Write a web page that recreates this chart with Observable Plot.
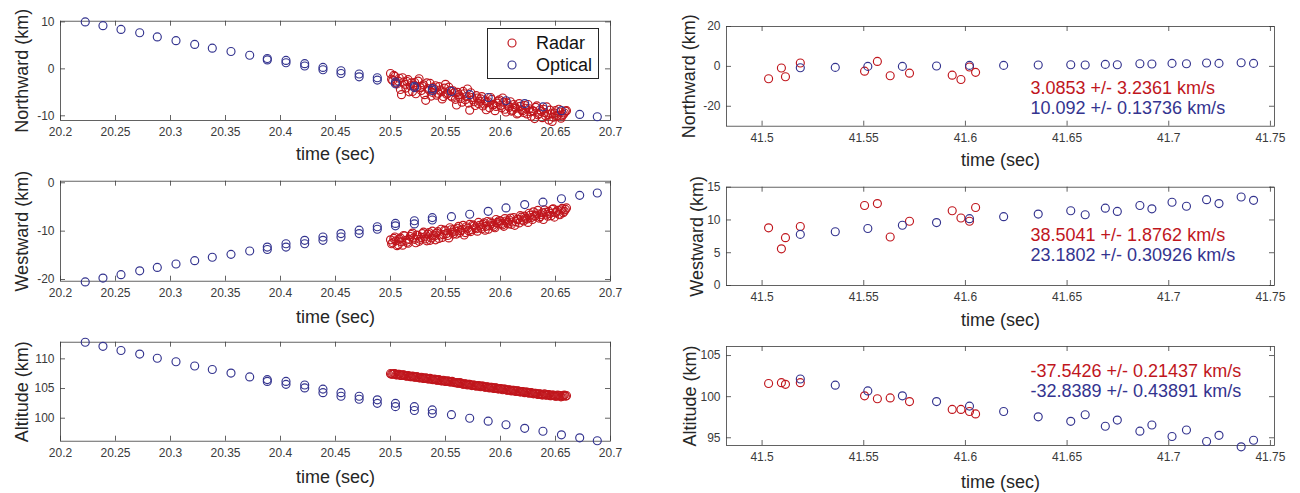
<!DOCTYPE html>
<html><head><meta charset="utf-8">
<script src="https://cdn.jsdelivr.net/npm/d3@7"></script>
<script src="https://cdn.jsdelivr.net/npm/@observablehq/plot@0.6"></script>
<style>
body{margin:0;background:#fff;}
#chart{position:relative;width:1300px;height:493px;font-family:"Liberation Sans",Arial,sans-serif;overflow:hidden;}
#chart > svg, #chart > div{position:absolute;}
</style></head><body><div id="chart"></div>
<script>
// ---------- tick labels ----------
const leftXTicks = [20.2, 20.25, 20.3, 20.35, 20.4, 20.45, 20.5, 20.55, 20.6, 20.65, 20.7];
const rightXTicks = [41.5, 41.55, 41.6, 41.65, 41.7, 41.75];
const northLeftTicks = [-10, 0, 10];
const westLeftTicks = [-20, -10, 0];
const altLeftTicks = [100, 105, 110];
const northRightTicks = [-20, 0, 20];
const westRightTicks = [0, 5, 10, 15];
const altRightTicks = [95, 100, 105];

// ---------- left column: optical (camera 1) ----------
const optTime = [20.2225, 20.2386, 20.2550, 20.2720, 20.2880, 20.3050, 20.3220, 20.3380, 20.3550, 20.3720, 20.3880, 20.4050, 20.4220, 20.4386, 20.4550, 20.4715, 20.4880, 20.5045, 20.5217, 20.5380, 20.5554, 20.5720, 20.5888, 20.6050, 20.6220, 20.6386, 20.6554, 20.6720, 20.6880];
const optNorth = [10.0, 9.2, 8.4, 7.7, 6.8, 6.0, 5.2, 4.4, 3.7, 2.9, 2.2, 1.8, 1.1, 0.3, -0.4, -1.1, -1.9, -2.8, -3.7, -4.2, -4.8, -5.5, -6.1, -6.8, -7.4, -8.1, -8.9, -9.7, -10.2];
const optWest = [-20.5, -19.7, -19.0, -18.2, -17.5, -16.8, -16.1, -15.4, -14.8, -14.1, -13.3, -12.6, -11.9, -11.2, -10.5, -9.8, -9.1, -8.4, -7.85, -7.2, -7.0, -6.5, -5.9, -5.2, -4.5, -4.0, -3.3, -2.6, -2.1];
const optAlt = [112.8, 112.1, 111.4, 110.8, 110.1, 109.5, 108.8, 108.2, 107.6, 106.95, 106.5, 106.2, 105.6, 104.9, 104.3, 103.7, 103.1, 102.5, 101.95, 101.4, 100.6, 100.0, 99.5, 98.9, 98.3, 97.8, 97.2, 96.7, 96.2];
// optical (camera 2, overlapping interval)
const opt2Time = [20.3880, 20.4050, 20.4220, 20.4386, 20.4550, 20.4715, 20.4880, 20.5045, 20.5217, 20.5380];
const opt2North = [1.9, 1.3, 0.6, -0.2, -1.0, -1.7, -2.4, -3.2, -4.0, -4.6];
const opt2West = [-13.8, -13.3, -12.6, -11.9, -11.2, -10.5, -9.6, -8.9, -8.5, -7.7];
const opt2Alt = [106.2, 105.7, 105.1, 104.3, 103.7, 103.2, 102.5, 101.95, 101.3, 100.8];

// ---------- left column: radar (even-ms samples) ----------
const radarTime = [20.500, 20.502, 20.504, 20.506, 20.508, 20.510, 20.512, 20.514, 20.516, 20.518,
  20.520, 20.522, 20.524, 20.526, 20.528, 20.530, 20.532, 20.534, 20.536, 20.538,
  20.540, 20.542, 20.544, 20.546, 20.548, 20.550, 20.552, 20.554, 20.556, 20.558,
  20.560, 20.562, 20.564, 20.566, 20.568, 20.570, 20.572, 20.574, 20.576, 20.578,
  20.580, 20.582, 20.584, 20.586, 20.588, 20.590, 20.592, 20.594, 20.596, 20.598,
  20.600, 20.602, 20.604, 20.606, 20.608, 20.610, 20.612, 20.614, 20.616, 20.618,
  20.620, 20.622, 20.624, 20.626, 20.628, 20.630, 20.632, 20.634, 20.636, 20.638,
  20.640, 20.642, 20.644, 20.646, 20.648, 20.650, 20.652, 20.654, 20.656, 20.658,
  20.660];
const radarNorth = [-1.0, -2.5, -1.6, -3.2, -2.0, -5.5, -2.8, -4.1, -2.3, -3.6,
  -4.8, -2.9, -3.9, -2.1, -4.6, -3.4, -6.7, -4.2, -3.1, -5.0,
  -4.4, -5.6, -3.8, -4.9, -5.9, -3.3, -5.2, -4.6, -6.0, -5.1,
  -7.7, -5.5, -6.3, -4.8, -6.6, -4.3, -8.8, -6.1, -7.0, -5.7,
  -7.4, -6.4, -7.9, -6.8, -7.2, -8.3, -6.5, -7.6, -8.0, -6.9,
  -7.8, -6.2, -8.6, -7.3, -8.2, -9.0, -7.6, -8.4, -9.4, -8.0,
  -8.9, -7.8, -9.6, -8.5, -10.1, -9.0, -8.2, -9.8, -8.7, -10.4,
  -9.3, -8.1, -10.9, -9.6, -10.3, -8.9, -9.9, -9.2, -10.0, -9.4,
  -8.9];
const radarWest = [-11.8, -12.4, -11.2, -13.0, -11.6, -12.2, -10.9, -11.9, -12.5, -11.1,
  -10.4, -11.7, -10.8, -12.1, -11.3, -10.2, -11.6, -10.6, -11.9, -10.0,
  -11.0, -10.4, -11.5, -9.6, -10.7, -9.9, -10.9, -9.3, -10.2, -9.6,
  -10.6, -9.0, -9.9, -8.8, -10.3, -9.4, -8.6, -9.7, -8.9, -9.5,
  -8.2, -9.2, -8.6, -9.8, -8.0, -8.9, -8.4, -9.1, -7.6, -8.5,
  -7.9, -8.7, -7.4, -8.2, -7.7, -8.6, -7.2, -8.0, -7.5, -6.8,
  -7.7, -6.9, -7.5, -6.3, -7.2, -6.0, -6.8, -5.7, -7.0, -6.2,
  -5.6, -6.5, -5.9, -6.8, -5.4, -6.2, -5.7, -6.6, -5.3, -5.9,
  -5.2];
const radarAlt = [107.5, 107.4, 107.5, 107.3, 107.4, 107.2, 107.3, 107.1, 107.2, 107.0,
  107.1, 106.9, 107.0, 106.8, 106.9, 106.7, 106.8, 106.6, 106.7, 106.5,
  106.6, 106.4, 106.5, 106.3, 106.4, 106.2, 106.3, 106.1, 106.2, 106.0,
  106.0, 105.9, 105.9, 105.7, 105.8, 105.6, 105.7, 105.5, 105.6, 105.4,
  105.5, 105.3, 105.4, 105.2, 105.3, 105.1, 105.2, 105.0, 105.1, 104.9,
  105.0, 104.8, 104.9, 104.7, 104.8, 104.6, 104.7, 104.5, 104.6, 104.4,
  104.5, 104.3, 104.4, 104.2, 104.3, 104.1, 104.2, 104.0, 104.1, 103.9,
  104.1, 103.9, 104.0, 103.8, 103.9, 103.7, 103.9, 103.8, 103.7, 103.9,
  103.8];

// ---------- left column: radar (odd-ms samples) ----------
const radarTime2 = [20.501, 20.503, 20.505, 20.507, 20.509, 20.511, 20.513, 20.515, 20.517, 20.519,
  20.521, 20.523, 20.525, 20.527, 20.529, 20.531, 20.533, 20.535, 20.537, 20.539,
  20.541, 20.543, 20.545, 20.547, 20.549, 20.551, 20.553, 20.555, 20.557, 20.559,
  20.561, 20.563, 20.565, 20.567, 20.569, 20.571, 20.573, 20.575, 20.577, 20.579,
  20.581, 20.583, 20.585, 20.587, 20.589, 20.591, 20.593, 20.595, 20.597, 20.599,
  20.601, 20.603, 20.605, 20.607, 20.609, 20.611, 20.613, 20.615, 20.617, 20.619,
  20.621, 20.623, 20.625, 20.627, 20.629, 20.631, 20.633, 20.635, 20.637, 20.639,
  20.641, 20.643, 20.645, 20.647, 20.649, 20.651, 20.653, 20.655, 20.657, 20.659];
const radarNorth2 = [-2.2, -1.4, -3.0, -2.6, -4.4, -1.9, -3.3, -2.7, -4.9, -3.0,
  -3.5, -5.3, -2.6, -4.0, -3.7, -5.5, -3.0, -4.5, -5.8, -4.0,
  -3.6, -5.2, -4.5, -6.4, -4.1, -5.4, -3.9, -5.8, -4.7, -6.5,
  -5.0, -6.0, -7.1, -5.3, -5.9, -7.3, -5.1, -6.6, -7.8, -6.2,
  -6.9, -5.9, -7.5, -8.7, -7.0, -6.1, -7.7, -8.9, -7.3, -6.6,
  -8.3, -7.1, -9.2, -7.9, -7.0, -8.8, -8.1, -9.6, -7.4, -8.7,
  -9.3, -8.4, -7.6, -9.1, -8.9, -10.6, -7.9, -9.5, -9.1, -8.6,
  -10.0, -9.7, -8.8, -11.2, -9.4, -10.1, -8.6, -10.5, -9.7, -9.0];
const radarWest2 = [-12.6, -11.5, -12.0, -12.8, -11.4, -12.9, -11.0, -12.3, -11.7, -10.7,
  -11.4, -12.4, -10.9, -11.7, -10.5, -11.2, -12.0, -10.3, -11.4, -10.8,
  -11.8, -10.1, -10.8, -11.3, -9.8, -10.5, -11.4, -9.7, -10.6, -10.0,
  -9.4, -10.3, -9.6, -10.8, -9.1, -9.9, -10.1, -8.7, -9.3, -10.0,
  -8.8, -9.5, -8.3, -9.0, -9.6, -8.1, -8.8, -9.3, -8.2, -7.8,
  -8.4, -9.0, -7.9, -8.5, -7.3, -8.1, -8.8, -7.6, -8.3, -7.1,
  -7.9, -7.3, -8.2, -6.7, -7.6, -6.9, -6.4, -7.3, -6.6, -7.6,
  -6.1, -6.9, -6.3, -5.5, -7.1, -6.0, -6.5, -5.6, -6.2, -5.5];
const radarAlt2 = [107.4, 107.5, 107.3, 107.4, 107.2, 107.3, 107.2, 107.1, 107.1, 107.0,
  107.0, 106.9, 106.9, 106.8, 106.8, 106.7, 106.7, 106.6, 106.6, 106.5,
  106.5, 106.4, 106.4, 106.3, 106.3, 106.2, 106.2, 106.1, 106.1, 106.0,
  105.9, 106.0, 105.8, 105.8, 105.7, 105.7, 105.6, 105.6, 105.5, 105.5,
  105.4, 105.4, 105.3, 105.3, 105.2, 105.2, 105.1, 105.1, 105.0, 105.0,
  104.9, 104.9, 104.8, 104.8, 104.7, 104.7, 104.6, 104.6, 104.5, 104.5,
  104.4, 104.4, 104.3, 104.3, 104.2, 104.2, 104.1, 104.1, 104.0, 104.0,
  103.9, 104.0, 103.8, 103.9, 103.8, 103.7, 103.8, 103.6, 103.8, 103.7];

// ---------- right column ----------
const radarTimeR = [41.5032, 41.5095, 41.5115, 41.5188, 41.5504, 41.5567, 41.5630, 41.5725, 41.5935, 41.5978, 41.6020, 41.6050];
const radarNorthR = [-6.2, -0.8, -5.2, 1.7, -2.4, 2.5, -4.7, -3.4, -4.4, -6.6, -0.3, -3.0];
const radarWestR = [8.8, 5.6, 7.3, 9.0, 12.2, 12.5, 7.4, 9.8, 11.4, 10.3, 9.8, 11.9];
const radarAltR = [101.6, 101.7, 101.5, 101.7, 100.1, 99.75, 99.85, 99.4, 98.45, 98.45, 98.2, 97.9];

const optTimeR = [41.5188, 41.5360, 41.5520, 41.5690, 41.5858, 41.6020, 41.6188, 41.6358, 41.6518, 41.6589, 41.6688, 41.6747, 41.6858, 41.6917, 41.7016, 41.7087, 41.7186, 41.7247, 41.7356, 41.7417];
const optNorthR = [-0.7, -0.5, 0.0, 0.0, 0.2, 0.5, 0.5, 0.7, 0.8, 0.7, 1.0, 0.8, 1.3, 1.2, 1.5, 1.3, 1.7, 1.5, 1.8, 1.5];
const optWestR = [7.8, 8.2, 8.7, 9.2, 9.6, 10.2, 10.5, 10.9, 11.4, 10.8, 11.8, 11.3, 12.2, 11.7, 12.7, 12.1, 13.1, 12.5, 13.5, 13.0];
const optAltR = [102.15, 101.4, 100.7, 100.1, 99.4, 98.85, 98.2, 97.55, 97.0, 97.8, 96.4, 97.15, 95.8, 96.55, 95.15, 95.95, 94.55, 95.3, 93.9, 94.7];

// velocity fits
const northFit = ["3.0853 +/- 3.2361 km/s", "10.092 +/- 0.13736 km/s"];
const westFit = ["38.5041 +/- 1.8762 km/s", "23.1802 +/- 0.30926 km/s"];
const altFit = ["-37.5426 +/- 0.21437 km/s", "-32.8389 +/- 0.43891 km/s"];

const seriesNames = ["Radar", "Optical"];
const xLabel = "time (sec)";

// ---------- drawing ----------
const RED = "#c0161d", BLUE = "#34348f", AX = "#3c3c3c";
const FONT = "'Liberation Sans', Arial, sans-serif";
const rows = (t, v) => t.map((x, i) => ({t: x, v: v[i]}));
const chart = document.getElementById("chart");

function panel(o) {
  const W = 650, H = 165, TL = 5;
  const plotH = H - o.mt - o.mb, plotW = W - o.ml - o.mr;
  const dotOpt = (c) => ({x: "t", y: "v", r: 4, stroke: c, strokeWidth: 1.15, fill: "none"});
  const marks = [
    Plot.frame({stroke: AX, strokeWidth: 0.8}),
    Plot.tickX(o.xticks, {x: d => d, insetTop: plotH - TL, stroke: AX, strokeWidth: 0.8}),
    Plot.tickX(o.xticks, {x: d => d, insetBottom: plotH - TL, stroke: AX, strokeWidth: 0.8}),
    Plot.tickY(o.yticks, {y: d => d, insetRight: plotW - TL, stroke: AX, strokeWidth: 0.8}),
    Plot.tickY(o.yticks, {y: d => d, insetLeft: plotW - TL, stroke: AX, strokeWidth: 0.8}),
    Plot.axisX({ticks: o.xticks, tickSize: 0, tickPadding: 7, tickFormat: d => String(d), label: null, fontSize: 12, fill: "#3a3a3a"}),
    Plot.axisY({ticks: o.yticks, tickSize: 0, tickPadding: 6, tickFormat: d => String(d), label: null, fontSize: 12, fill: "#3a3a3a"}),
    ...o.radar.map(s => Plot.dot(s, dotOpt(RED))),
    ...o.optical.map(s => Plot.dot(s, dotOpt(BLUE))),
    Plot.text([xLabel], {text: d => d, frameAnchor: "bottom", dy: o.xlabDy, lineAnchor: "middle", fontSize: 18, fill: "#262626"}),
    Plot.text([o.ylabel], {text: d => d, frameAnchor: "left", dx: o.ylabDx, rotate: -90, textAnchor: "middle", lineAnchor: "middle", fontSize: 18, fill: "#262626"})
  ];
  if (o.fit) {
    marks.push(Plot.text([o.fit[0]], {text: d => d, frameAnchor: "top-left", dx: o.fitDx, dy: o.fitDy[0], textAnchor: "start", lineAnchor: "middle", fontSize: 18, fill: RED}));
    marks.push(Plot.text([o.fit[1]], {text: d => d, frameAnchor: "top-left", dx: o.fitDx, dy: o.fitDy[1], textAnchor: "start", lineAnchor: "middle", fontSize: 18, fill: BLUE}));
  }
  const svg = Plot.plot({
    width: W, height: H,
    marginLeft: o.ml, marginRight: o.mr, marginTop: o.mt, marginBottom: o.mb,
    x: {domain: o.xdom}, y: {domain: o.ydom},
    style: {fontFamily: FONT, overflow: "visible", background: "transparent"},
    marks
  });
  svg.style.left = o.left + "px";
  svg.style.top = o.top + "px";
  chart.appendChild(svg);
}

const L = {left: 0, ml: 60, mr: 40, xdom: [20.2, 20.7], xticks: leftXTicks, ylabDx: -38};
const R = {left: 650, ml: 76, mr: 26, xdom: [41.4825, 41.752], xticks: rightXTicks, fitDx: 304};

panel({...L, top: 0, mt: 20.7, mb: 45, ydom: [-11.0, 10.15], yticks: northLeftTicks, ylabel: "Northward (km)", xlabDy: 34,
  radar: [rows(radarTime, radarNorth), rows(radarTime2, radarNorth2)], optical: [rows(optTime, optNorth), rows(opt2Time, opt2North)]});
panel({...R, top: 0, mt: 26, mb: 39.3, ydom: [-30, 20], yticks: northRightTicks, ylabel: "Northward (km)", ylabDx: -37, xlabDy: 34,
  radar: [rows(radarTimeR, radarNorthR)], optical: [rows(optTimeR, optNorthR)], fit: northFit, fitDy: [62, 82]});
panel({...L, top: 165, mt: 15.7, mb: 49.3, ydom: [-20.35, 0.33], yticks: westLeftTicks, ylabel: "Westward (km)", xlabDy: 36,
  radar: [rows(radarTime, radarWest), rows(radarTime2, radarWest2)], optical: [rows(optTime, optWest), rows(opt2Time, opt2West)]});
panel({...R, top: 165, mt: 21.7, mb: 45, ydom: [0, 15], yticks: westRightTicks, ylabel: "Westward (km)", ylabDx: -29, xlabDy: 35,
  radar: [rows(radarTimeR, radarWestR)], optical: [rows(optTimeR, optWestR)], fit: westFit, fitDy: [48.3, 68]});
panel({...L, top: 328, mt: 13.7, mb: 52.3, ydom: [96.13, 112.8], yticks: altLeftTicks, ylabel: "Altitude (km)", xlabDy: 36,
  radar: [rows(radarTime, radarAlt), rows(radarTime2, radarAlt2)], optical: [rows(optTime, optAlt), rows(opt2Time, opt2Alt)]});
panel({...R, top: 328, mt: 18, mb: 48, ydom: [94.06, 106.1], yticks: altRightTicks, ylabel: "Altitude (km)", ylabDx: -36, xlabDy: 37,
  radar: [rows(radarTimeR, radarAltR)], optical: [rows(optTimeR, optAltR)], fit: altFit, fitDy: [25, 45]});

// legend (top-left panel)
const leg = document.createElement("div");
leg.style.cssText = "left:487px;top:28px;width:110px;height:49px;border:1px solid #262626;background:#fff;";
leg.innerHTML = seriesNames.map((n, i) =>
  `<div style="position:absolute;left:15px;top:${4 + i * 22.4}px;height:20px;display:flex;align-items:center;">
     <svg width="20" height="20" style="overflow:visible"><circle cx="9" cy="10" r="4" fill="none" stroke="${i ? BLUE : RED}" stroke-width="1.15"/></svg>
     <span style="margin-left:13px;font-size:18px;color:#111;line-height:20px;">${n}</span></div>`).join("");
chart.appendChild(leg);
</script></body></html>
